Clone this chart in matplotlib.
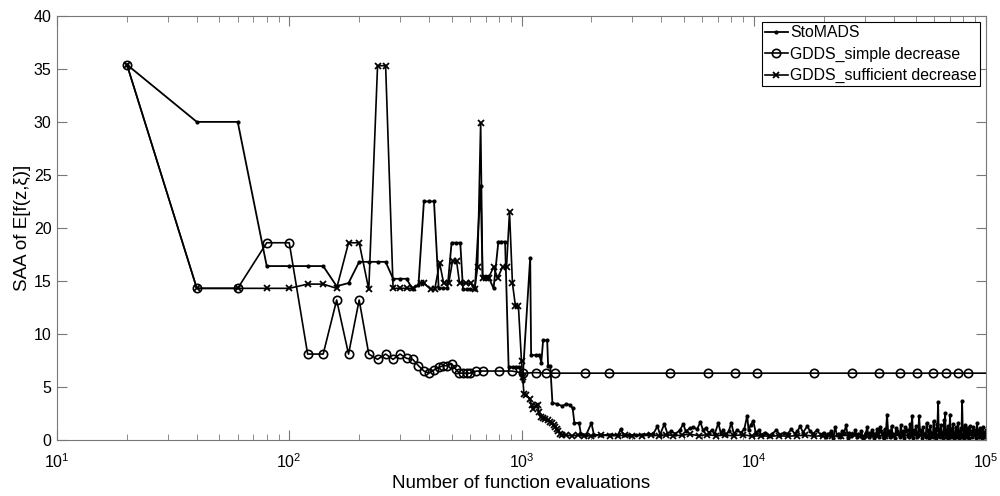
import matplotlib
matplotlib.use("Agg")
import matplotlib.pyplot as plt

plt.rcParams['font.family'] = ['Liberation Sans', 'DejaVu Sans']
plt.rcParams['mathtext.fontset'] = 'custom'
plt.rcParams['mathtext.rm'] = 'Liberation Sans'
plt.rcParams['mathtext.it'] = 'Liberation Sans:italic'

# StoMADS (dots)
sto_x = [20, 40, 60, 80, 100, 120, 140, 160, 180, 200, 220, 240, 260, 280, 300, 320,
         340, 360, 380, 400, 420, 440, 460, 480, 500, 520, 545, 560, 580, 600, 630, 667,
         680, 700, 720, 758, 795, 820, 850, 880, 920, 950, 980, 1000, 1010, 1090, 1100,
         1150, 1195, 1217, 1239, 1290, 1302, 1330, 1359, 1420, 1500, 1560, 1620, 1660,
         1690, 1770, 1800,
         1900, 2000, 2050, 2200, 2400, 2600, 2670, 2750, 2900, 3100, 3300, 3500, 3700,
         3850, 3950, 4120, 4250, 4400, 4600, 4800, 4970, 5100, 5300, 5500, 5700, 5890,
         6050, 6200, 6400, 6600, 6800, 7040, 7200, 7400, 7600, 7800, 8000, 8200, 8500,
         8800, 9100, 9370, 9500, 9700, 9950, 10200, 10500, 10800, 11200, 11600, 12000,
         12500, 13000, 13500, 14000, 14500, 15000, 15400, 15850, 16300, 17000, 17500,
         18000, 18700, 19400, 20000, 20800, 21600, 22400, 23200, 24000, 25000, 25800,
         26600, 27400, 28200, 29000, 30000, 30800, 31600, 32400, 33200, 34000, 35000,
         35800, 36600, 37500, 38300, 39200, 40000, 41000, 42000, 43000, 44000, 45000,
         46000, 47000, 48100, 49000, 50000, 50800, 51500, 52500, 53500, 54500, 55500,
         56500, 57500, 58500, 59500, 60500, 61300, 62200, 63000, 64000, 65000, 66000,
         66700, 67500, 68500, 69300, 70000, 71000, 72000, 73000, 74000, 75000, 76000,
         77000, 78000, 78900, 80000, 81000, 82000, 83000, 84000, 85000, 86500, 88000,
         89500, 91500, 93000, 94500, 96000, 97000, 98500, 100000]
sto_y = [35.4, 30.0, 30.0, 16.4, 16.4, 16.4, 16.4, 14.5, 14.8, 16.8, 16.8, 16.8, 16.8, 15.2,
         15.2, 15.2, 14.2, 14.6, 22.5, 22.5, 22.5, 14.3, 14.3, 14.3, 18.6, 18.6, 18.6, 14.2,
         14.2, 14.2, 14.2, 24.0, 15.4, 15.4, 15.4, 14.3, 18.7, 18.7, 18.7, 6.9, 6.9, 6.9,
         6.9, 6.2, 5.6, 17.2, 8.0, 8.0, 8.0, 7.3, 9.4, 9.4, 7.0, 7.0, 3.5, 3.4, 3.2, 3.4,
         3.3, 3.0, 1.6, 1.6, 0.6,
         0.5, 1.6, 0.5, 0.45, 0.5, 0.45, 1.0, 0.45, 0.5, 0.45, 0.5, 0.55, 0.6,
         1.3, 0.5, 1.5, 0.6, 0.8, 0.6, 0.9, 1.5, 0.8, 1.1, 1.2, 1.0, 1.7,
         0.9, 1.1, 0.7, 0.9, 0.6, 1.6, 0.7, 0.9, 0.5, 0.8, 1.6, 0.6, 0.9,
         0.7, 1.0, 2.3, 0.9, 1.4, 1.8, 0.7, 0.9, 0.5, 0.7, 0.4, 0.6,
         0.9, 0.5, 0.7, 0.6, 1.0, 0.6, 0.8, 1.3, 0.7, 1.3, 0.8,
         0.6, 0.9, 0.5, 0.7, 0.6, 0.8, 1.2, 0.6, 0.8, 1.4, 0.7,
         0.5, 0.9, 0.6, 0.8, 0.5, 1.2, 0.7, 0.9, 0.4, 1.0, 1.2,
         0.7, 1.0, 2.4, 0.8, 1.3, 0.5, 1.1, 0.6, 1.4, 0.8, 1.2,
         0.4, 1.5, 2.3, 0.9, 1.3, 0.5, 2.3, 0.8, 1.2, 0.5, 1.6,
         0.9, 1.3, 0.4, 1.8, 1.0, 1.5, 3.6, 1.0, 1.4, 0.6, 1.9,
         2.5, 0.9, 1.3, 0.5, 2.4, 1.0, 1.5, 0.5, 1.2, 0.9, 1.6,
         0.5, 1.1, 3.7, 1.0, 1.4, 0.5, 1.1, 0.6, 1.3, 0.8, 1.2,
         0.5, 1.6, 0.9, 1.1, 0.5, 1.2, 0.7, 0.9]

# extra StoMADS evaluations in the dense tail (read between the ones above)
sto_tail_x = [20400, 21200, 22000, 22800, 23600, 24500, 25400, 26200, 27000, 27800,
              28600, 29500, 30400, 31200, 32000, 32800, 33600, 34500, 35400, 36200,
              37000, 37900, 38700, 39600, 40500, 41500, 42500, 43500, 44500, 45500,
              46500, 47500, 48500, 49500, 50400, 51100, 52000, 53000, 54000, 55000,
              56000, 57000, 58000, 59000, 60000, 60900, 61700, 62600, 63500, 64500,
              65500, 66300, 67100, 68000, 68900, 69600, 70500, 71500, 72500, 73500,
              74500, 75500, 76500, 77500, 78400, 79400, 80500, 81500, 82500, 83500,
              84500, 85700, 87200, 88700, 90500, 92200, 93700, 95200, 96500, 97700,
              99200]
sto_tail_y = [0.3, 0.6, 0.2, 0.5, 0.3, 0.7, 0.2, 0.4, 0.6, 0.3,
              0.5, 0.2, 0.7, 0.3, 0.5, 0.2, 0.6, 0.3, 0.8, 0.2,
              0.5, 0.7, 0.3, 0.6, 0.2, 0.8, 0.3, 0.5, 0.2, 0.9,
              0.3, 0.6, 0.2, 0.7, 0.3, 0.5, 0.9, 0.2, 0.6, 0.3,
              0.8, 0.2, 0.7, 0.3, 0.6, 0.2, 0.9, 0.4, 0.3, 0.7,
              0.2, 0.8, 0.3, 0.6, 0.2, 0.9, 0.3, 0.7, 0.2, 0.6,
              0.3, 0.8, 0.2, 0.7, 0.3, 1.0, 0.2, 0.6, 0.3, 0.8,
              0.2, 0.7, 0.3, 0.9, 0.2, 0.6, 0.3, 0.8, 0.2, 0.7,
              0.3]

# GDDS_simple decrease (circles)
simple_x = [20, 40, 60, 80, 100, 120, 140, 160, 180, 200, 220, 240, 260, 280, 300, 320,
            340, 360, 380, 400, 420, 440, 460, 480, 500, 520, 540, 560, 580, 600, 640,
            680, 800, 910, 1020, 1150, 1280, 1400, 1880, 2370, 4340, 6330, 8270, 10300,
            18250, 26400, 34600, 42700, 50600, 59000, 67300, 75500, 83900, 100000]
simple_y = [35.4, 14.3, 14.3, 18.6, 18.6, 8.1, 8.1, 13.2, 8.1, 13.2, 8.1, 7.6, 8.1, 7.6,
            8.1, 7.7, 7.6, 7.0, 6.5, 6.3, 6.6, 6.85, 7.0, 7.0, 7.2, 6.7, 6.3, 6.3, 6.3,
            6.3, 6.5, 6.5, 6.5, 6.5, 6.3, 6.35, 6.3, 6.3, 6.3, 6.3, 6.3, 6.3, 6.3, 6.3,
            6.3, 6.3, 6.3, 6.3, 6.3, 6.3, 6.3, 6.3, 6.3, 6.3]

# GDDS_sufficient decrease (crosses)
suff_x = [20, 40, 60, 80, 100, 120, 140, 160, 180, 200, 220, 240, 260, 280, 300, 320,
          340, 368, 380, 406, 423, 444, 462, 486, 505, 525, 541, 574, 604, 628, 647, 667,
          680, 700, 721, 758, 789, 829, 862, 888, 914, 942, 970, 1000, 1012, 1025, 1050,
          1083, 1105, 1126, 1150, 1172, 1190, 1208, 1240, 1268, 1306, 1330, 1359, 1380,
          1400, 1420, 1442, 1470, 1500, 1550, 1650, 1750, 1850, 2000, 2200, 2400, 2600,
          2800, 3000, 3300, 3600, 3900, 4200, 4500, 4900, 5300, 5800, 6300, 6900, 7500,
          8200, 9000, 9800, 10700, 11700, 12800, 14000, 15300, 16700, 18200, 19900,
          21700, 23700, 25900, 28300, 30900, 33700, 36800, 40200, 43900, 47900, 52300,
          57100, 62300, 68000, 74200, 81000, 88400, 96500, 100000]
suff_y = [35.4, 14.3, 14.3, 14.3, 14.3, 14.7, 14.7, 14.3, 18.6, 18.6, 14.2, 35.3, 35.3,
          14.3, 14.3, 14.3, 14.3, 14.8, 14.8, 14.2, 14.2, 16.7, 14.8, 14.8, 16.9, 16.9,
          14.8, 14.8, 14.8, 14.2, 16.3, 29.9, 15.3, 15.3, 15.3, 16.3, 15.3, 16.3, 16.3,
          21.5, 14.8, 12.6, 12.6, 7.4, 5.9, 4.3, 4.2, 3.9, 3.3, 2.9, 3.2, 3.3, 2.6, 2.2,
          2.1, 2.0, 1.9, 1.7, 1.6, 1.4, 1.2, 1.0, 0.8, 0.6, 0.5, 0.45, 0.4, 0.45, 0.4,
          0.4, 0.45, 0.4, 0.4, 0.45, 0.4, 0.4, 0.45, 0.4, 0.5, 0.4, 0.45, 0.55, 0.4, 0.5,
          0.4, 0.45, 0.4, 0.5, 0.35, 0.4, 0.35, 0.4, 0.35, 0.4, 0.45, 0.35, 0.4, 0.35,
          0.4, 0.45, 0.35, 0.4, 0.45, 0.35, 0.4, 0.5, 0.35, 0.45, 0.4, 0.5, 0.35, 0.45,
          0.4, 0.45, 0.35, 0.4]

# merge the StoMADS tail evaluations into one ordered series
sto = sorted(zip(sto_x + sto_tail_x, sto_y + sto_tail_y))
sto_xs = [p[0] for p in sto]
sto_ys = [p[1] for p in sto]

fig = plt.figure(figsize=(10, 4.96), dpi=100)
ax = fig.add_axes([0.057, 0.113, 0.929, 0.855])

ax.plot(sto_xs, sto_ys, color='black', lw=1.3, marker='.', markersize=4, label='StoMADS')
ax.plot(simple_x, simple_y, color='black', lw=1.2, marker='o', markersize=6,
        fillstyle='none', markeredgewidth=1.2, markevery=list(range(len(simple_x) - 1)),
        label='GDDS_simple decrease')
ax.plot(suff_x, suff_y, color='black', lw=1.2, marker='x', markersize=4.5,
        markeredgewidth=1.3, label='GDDS_sufficient decrease')

ax.set_xscale('log')
ax.set_xlim(10, 1e5)
ax.set_ylim(0, 40)
ax.set_yticks(range(0, 41, 5))

for s in ax.spines.values():
    s.set_color('#777777')
    s.set_linewidth(0.8)
ax.tick_params(which='both', direction='in', top=True, right=True, colors='#777777',
               labelcolor='black', labelsize=11.5)
ax.tick_params(which='major', length=7, pad=4)
ax.tick_params(which='minor', length=4)
ax.tick_params(axis='x', which='both', pad=9)

ax.set_xlabel('Number of function evaluations', fontsize=13.5, labelpad=3)
ax.set_ylabel('SAA of E[f(z,ξ)]', fontsize=13.5, labelpad=2)

leg = ax.legend(loc='upper right', fontsize=11.4, handlelength=1.4, handletextpad=0.15,
                labelspacing=0.4, borderpad=0.2, borderaxespad=0.4, fancybox=False,
                framealpha=1)
leg.get_frame().set_edgecolor('black')
leg.get_frame().set_linewidth(0.8)

fig.savefig('out.png', dpi=100)
